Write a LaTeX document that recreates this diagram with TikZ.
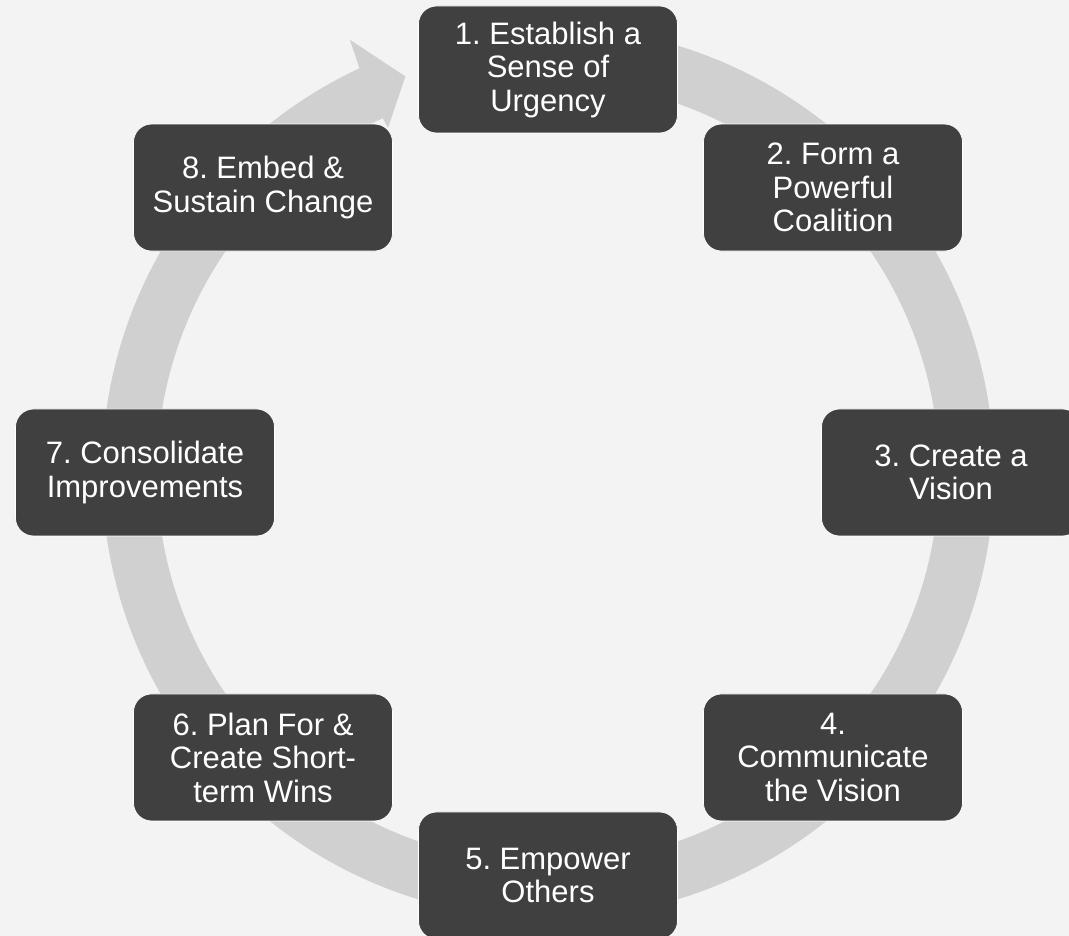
\documentclass[tikz,border=0pt]{standalone}
\usepackage{fontspec}
\setmainfont{Liberation Sans}
\definecolor{bggray}{HTML}{F3F3F3}
\definecolor{ringgray}{HTML}{D0D0D0}
\definecolor{stagefill}{HTML}{404040}
\frenchspacing

\begin{document}
\begin{tikzpicture}[
    stage/.style={draw=white, line width=0.75pt, fill=stagefill, text=white,
      rounded corners=18pt, minimum width=259pt, minimum height=127pt,
      inner sep=4pt, align=center, font=\fontsize{31}{33.5}\selectfont}]
     \fill[bggray] (-548pt,-463.5pt) rectangle (521pt,472.5pt);
     \useasboundingbox (-548pt,-463.5pt) rectangle (521pt,472.5pt);
     % ring with its head just left of step 1
     \fill[ringgray] (100:446pt) arc[start angle=100, end angle=-245, radius=446pt]
       -- (-245.4:476pt) -- (-250.2:421pt) -- (-245.1:380pt) -- (-245:391pt)
       arc[start angle=-245, end angle=100, radius=391pt] -- cycle;
     \node[stage] (urgency)     at (90:403pt)   {1. Establish a\\Sense of\\Urgency};
     \node[stage] (coalition)   at (45:403pt)   {2. Form a\\Powerful\\Coalition};
     \node[stage] (vision)      at (0:403pt)    {3. Create a\\Vision};
     \node[stage] (communicate) at (-45:403pt)  {4.\\Communicate\\the Vision};
     \node[stage] (empower)     at (-90:403pt)  {5. Empower\\Others};
     \node[stage] (wins)        at (-135:403pt) {6. Plan For \&\\Create Short-\\term Wins};
     \node[stage] (consolidate) at (180:403pt)  {7. Consolidate\\Improvements};
     \node[stage] (embed)       at (135:403pt)  {8. Embed \&\\Sustain Change};
\end{tikzpicture}
\end{document}
